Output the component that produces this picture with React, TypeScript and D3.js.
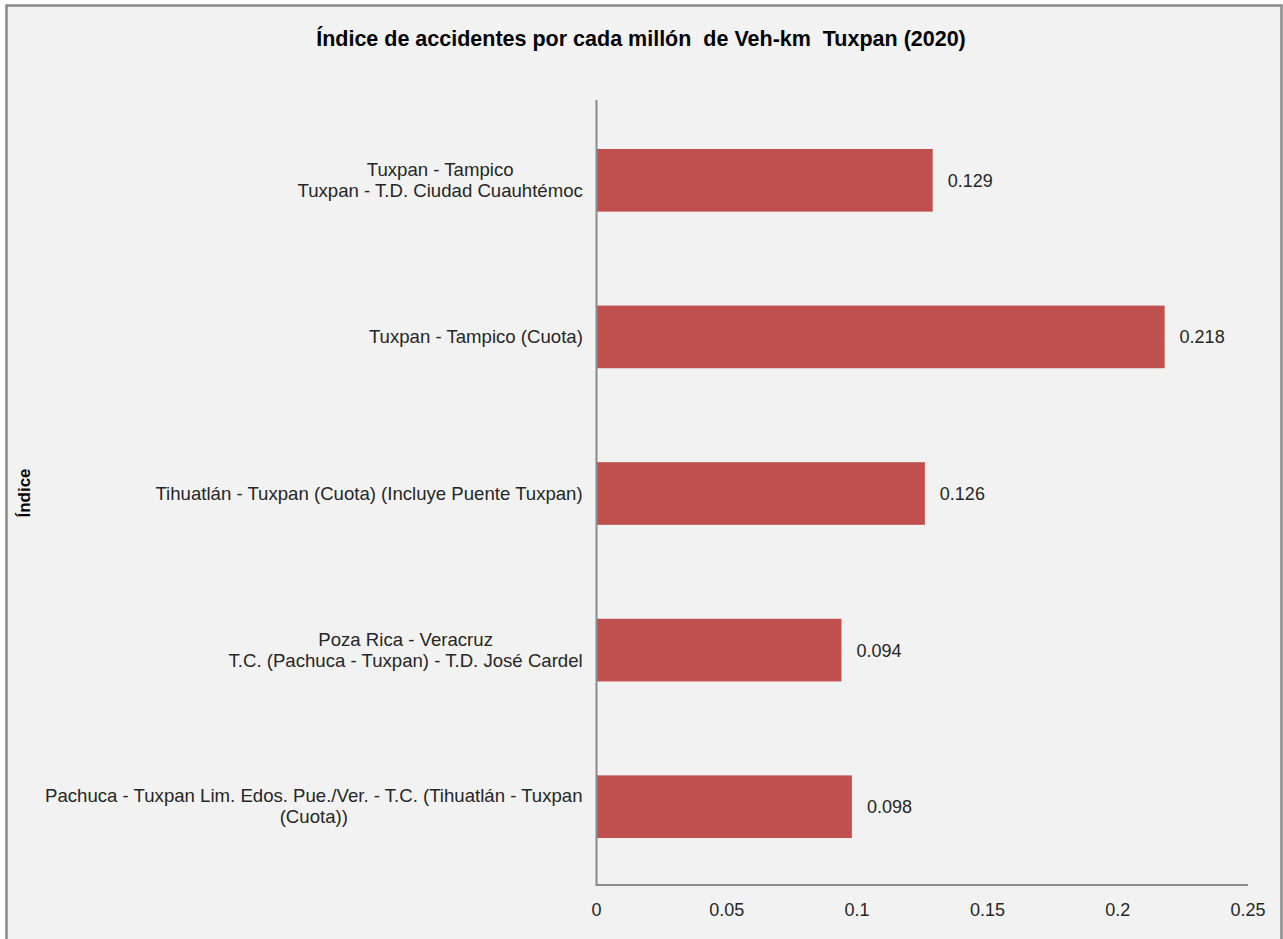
import React from "react";
import * as d3 from "d3";

const TITLE = "Índice de accidentes por cada millón  de Veh-km  Tuxpan (2020)";
const Y_TITLE = "Índice";
const categories: string[][] = [
  ["Tuxpan - Tampico", "Tuxpan - T.D. Ciudad Cuauhtémoc"],
  ["Tuxpan - Tampico (Cuota)"],
  ["Tihuatlán - Tuxpan (Cuota) (Incluye Puente Tuxpan)"],
  ["Poza Rica - Veracruz", "T.C. (Pachuca - Tuxpan) - T.D. José Cardel"],
  ["Pachuca - Tuxpan Lim. Edos. Pue./Ver. - T.C. (Tihuatlán - Tuxpan", "(Cuota))"],
];
const values: number[] = [0.129, 0.218, 0.126, 0.094, 0.098];
const valueLabels: string[] = ["0.129", "0.218", "0.126", "0.094", "0.098"];
const xTicks: number[] = [0, 0.05, 0.1, 0.15, 0.2, 0.25];
const xTickLabels: string[] = ["0", "0.05", "0.1", "0.15", "0.2", "0.25"];

const FONT = "'Liberation Sans', Arial, sans-serif";
const W = 1283;
const H = 939;
const CAT_SIZE = 18.6;

let _ctx: CanvasRenderingContext2D | null = null;
function measure(text: string, size: number, weight = "normal"): number {
  if (!_ctx) _ctx = document.createElement("canvas").getContext("2d");
  if (!_ctx) return text.length * size * 0.5;
  _ctx.font = `${weight} ${size}px 'Liberation Sans', Arial, sans-serif`;
  return _ctx.measureText(text).width;
}

export default function App() {
  const x = d3.scaleLinear().domain([0, 0.25]).range([596.5, 1248]);
  const ids = categories.map((_, i) => String(i));
  const y = d3.scaleBand<string>().domain(ids).range([102, 885]).paddingInner(0.6).paddingOuter(0.3);
  const labelRight = 583;
  const lineH = 21;

  return (
    <svg width={W} height={H} style={{ position: "absolute", left: 0, top: 0 }} fontFamily={FONT}>
      <rect x={0} y={0} width={W} height={H} fill="#ffffff" />
      <rect x={6.5} y={5.5} width={1275} height={960} fill="#f2f2f2" stroke="#8a8a8a" strokeWidth={2.5} />
      <text x={641} y={46} textAnchor="middle" fontSize={21.5} fontWeight="bold" fill="#000" style={{ whiteSpace: "pre" }}>
        {TITLE}
      </text>
      <text transform={`translate(30,${493}) rotate(-90)`} textAnchor="middle" fontSize={17} fontWeight="bold" fill="#000">
        {Y_TITLE}
      </text>
      {values.map((v, i) => {
        const y0 = y(String(i))!;
        return (
          <rect key={"b" + i} x={x(0)} y={y0} width={x(v) - x(0)} height={y.bandwidth()} fill="#c0504d" />
        );
      })}
      {values.map((v, i) => {
        const cy = y(String(i))! + y.bandwidth() / 2;
        return (
          <text key={"v" + i} x={x(v) + 15} y={cy + 6.5} fontSize={18} fill="#262626">
            {valueLabels[i]}
          </text>
        );
      })}
      {categories.map((lines, i) => {
        const cy = y(String(i))! + y.bandwidth() / 2;
        const maxW = Math.max(...lines.map((l) => measure(l, CAT_SIZE)));
        const cx = labelRight - maxW / 2;
        const top = cy - ((lines.length - 1) * lineH) / 2;
        return (
          <text key={"c" + i} textAnchor="middle" fontSize={CAT_SIZE} fill="#262626">
            {lines.map((l, j) => (
              <tspan key={j} x={cx} y={top + j * lineH + 6}>
                {l}
              </tspan>
            ))}
          </text>
        );
      })}
      <line x1={x(0)} x2={x(0)} y1={100} y2={886} stroke="#8a8a8a" strokeWidth={2} />
      <line x1={x(0)} x2={x(0.25)} y1={885} y2={885} stroke="#8a8a8a" strokeWidth={2} />
      {xTicks.map((t, i) => (
        <text key={"t" + i} x={x(t)} y={916} textAnchor="middle" fontSize={18} fill="#262626">
          {xTickLabels[i]}
        </text>
      ))}
    </svg>
  );
}
